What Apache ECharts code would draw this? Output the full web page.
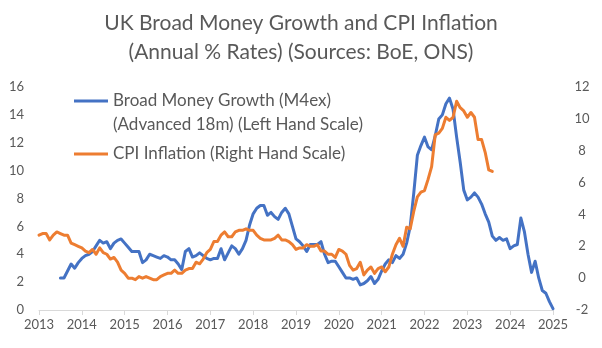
<!DOCTYPE html>
<html>
<head>
<meta charset="utf-8">
<script src="https://cdn.jsdelivr.net/npm/echarts@6/dist/echarts.min.js"></script>
<style>
  html, body { margin: 0; padding: 0; background: #ffffff; }
  #chart { width: 602px; height: 348px; }
</style>
</head>
<body>
<div id="chart"></div>
<script>
// Monthly axis: Jan 2013 .. Jan 2025
const firstYear = 2013;
const lastYear = 2025;

// UK CPI inflation, annual % rate, monthly from Jan 2013 (right hand scale)
const cpiStartIndex = 0;
const cpiInflation = [
  2.7, 2.8, 2.8, 2.4, 2.7, 2.9, 2.8, 2.7, 2.7, 2.2, 2.1, 2.0,
  1.9, 1.7, 1.6, 1.8, 1.5, 1.9, 1.6, 1.5, 1.2, 1.3, 1.0, 0.5,
  0.3, 0.0, 0.0, -0.1, 0.1, 0.0, 0.1, 0.0, -0.1, -0.1, 0.1, 0.2,
  0.3, 0.3, 0.5, 0.3, 0.3, 0.5, 0.6, 0.6, 1.0, 0.9, 1.2, 1.6,
  1.8, 2.3, 2.3, 2.7, 2.9, 2.6, 2.6, 2.9, 3.0, 3.0, 3.1, 3.0,
  3.0, 2.7, 2.5, 2.4, 2.4, 2.4, 2.5, 2.7, 2.4, 2.4, 2.3, 2.1,
  1.8, 1.9, 1.9, 2.1, 2.0, 2.0, 2.1, 1.7, 1.7, 1.5, 1.5, 1.3,
  1.8, 1.7, 1.5, 0.8, 0.5, 0.6, 1.0, 0.2, 0.5, 0.7, 0.3, 0.6,
  0.7, 0.4, 0.7, 1.5, 2.1, 2.5, 2.0, 3.2, 3.1, 4.2, 5.1, 5.4,
  5.5, 6.2, 7.0, 9.0, 9.1, 9.4, 10.1, 9.9, 10.1, 11.1, 10.7, 10.5,
  10.1, 10.4, 10.1, 8.7, 8.7, 7.9, 6.8, 6.7
];

// Broad money (M4ex) growth, annual % rate, advanced 18 months, monthly from Jul 2013 (left hand scale)
const broadMoneyStartIndex = 6;
const broadMoneyGrowth = [
                                2.3, 2.3, 2.8, 3.3, 3.0, 3.4,
  3.7, 3.9, 4.0, 4.2, 4.6, 5.0, 4.8, 4.9, 4.4, 4.8, 5.0, 5.1,
  4.8, 4.5, 4.2, 4.2, 4.2, 3.4, 3.6, 4.0, 3.9, 3.8, 3.7, 3.9,
  3.8, 3.6, 3.6, 3.3, 2.9, 4.2, 4.4, 3.8, 3.9, 4.1, 3.9, 3.7,
  3.6, 3.7, 3.7, 4.4, 3.6, 4.1, 4.6, 4.4, 4.0, 4.4, 5.0, 6.1,
  6.9, 7.3, 7.5, 7.5, 6.8, 7.0, 6.7, 6.5, 7.0, 7.3, 6.9, 6.0,
  5.1, 4.9, 4.6, 4.2, 4.7, 4.7, 4.7, 4.9, 4.0, 3.4, 3.5, 3.5,
  3.1, 2.7, 2.3, 2.3, 2.2, 2.3, 1.8, 1.9, 2.1, 2.4, 1.9, 2.2,
  2.8, 3.3, 3.6, 3.4, 3.9, 3.7, 4.0, 4.8, 6.0, 8.4, 11.1, 11.8,
  12.4, 11.7, 11.5, 12.5, 13.7, 14.0, 14.8, 15.2, 14.4, 12.4, 10.6, 8.6,
  7.9, 8.1, 8.4, 8.1, 7.6, 6.9, 6.3, 5.3, 5.0, 5.2, 5.0, 5.1,
  4.4, 4.6, 4.7, 6.6, 5.6, 4.0, 2.7, 3.5, 2.3, 1.4, 1.2, 0.6,
  0.1
];

const leftScale = { min: 0, max: 16, step: 2 };
const rightScale = { min: -2, max: 12, step: 2 };

const seriesNames = {
  money: 'Broad Money Growth (M4ex)\n(Advanced 18m) (Left Hand Scale)',
  cpi: 'CPI Inflation (Right Hand Scale)'
};

// Build month categories and align each series on them
const months = [];
for (let y = firstYear; y <= lastYear; y++) {
  for (let m = 1; m <= 12; m++) {
    if (y === lastYear && m > 1) break;
    months.push(y + '-' + String(m).padStart(2, '0'));
  }
}
function placeOnAxis(values, start) {
  const out = new Array(months.length).fill(null);
  values.forEach((v, i) => { if (start + i < out.length) out[start + i] = v; });
  return out;
}

const textColor = '#595959';
const fontFamily = 'Lato, "Open Sans", sans-serif';
const isYearStart = (i) => i % 12 === 0;
const legendLine = 23.3;

const chart = echarts.init(document.getElementById('chart'), null, { renderer: 'canvas' });
chart.setOption({
  animation: false,
  backgroundColor: '#ffffff',
  textStyle: { fontFamily: fontFamily },
  title: {
    text: 'UK Broad Money Growth and CPI Inflation\n(Annual % Rates) (Sources: BoE, ONS)',
    left: 'center',
    top: 8,
    padding: 0,
    textStyle: {
      color: textColor,
      fontFamily: fontFamily,
      fontSize: 21,
      fontWeight: 'normal',
      lineHeight: 29.5
    }
  },
  legend: [
    {
      // a blank leading line keeps the icon level with the first line of the name
      data: [seriesNames.money],
      formatter: (name) => '\n' + name,
      left: 74,
      top: 101 - 1.5 * legendLine,
      padding: 0,
      icon: 'rect',
      itemWidth: 34,
      itemHeight: 3,
      itemGap: 7,
      textStyle: {
        color: textColor,
        fontFamily: fontFamily,
        fontSize: 17,
        lineHeight: legendLine
      }
    },
    {
      data: [seriesNames.cpi],
      left: 74,
      top: 154 - 0.5 * legendLine,
      padding: 0,
      icon: 'rect',
      itemWidth: 34,
      itemHeight: 3,
      textStyle: {
        color: textColor,
        fontFamily: fontFamily,
        fontSize: 17,
        lineHeight: legendLine
      }
    }
  ],
  grid: { left: 39, right: 49, top: 87, bottom: 38, containLabel: false },
  xAxis: {
    type: 'category',
    data: months,
    boundaryGap: false,
    axisLine: { lineStyle: { color: '#d9d9d9', width: 1 } },
    axisTick: { interval: isYearStart, length: 5, lineStyle: { color: '#d9d9d9' } },
    axisLabel: {
      interval: isYearStart,
      formatter: (v) => v.slice(0, 4),
      color: textColor,
      fontFamily: fontFamily,
      fontSize: 13,
      margin: 8
    },
    splitLine: { show: false }
  },
  yAxis: [
    {
      type: 'value',
      position: 'left',
      min: leftScale.min,
      max: leftScale.max,
      interval: leftScale.step,
      alignTicks: false,
      axisLine: { show: false },
      axisTick: { show: false },
      splitLine: { show: false },
      axisLabel: { color: textColor, fontFamily: fontFamily, fontSize: 13, margin: 15 }
    },
    {
      type: 'value',
      position: 'right',
      min: rightScale.min,
      max: rightScale.max,
      interval: rightScale.step,
      alignTicks: false,
      axisLine: { show: false },
      axisTick: { show: false },
      splitLine: { show: false },
      axisLabel: { color: textColor, fontFamily: fontFamily, fontSize: 13, margin: 29, align: 'center' }
    }
  ],
  series: [
    {
      name: seriesNames.money,
      type: 'line',
      yAxisIndex: 0,
      data: placeOnAxis(broadMoneyGrowth, broadMoneyStartIndex),
      showSymbol: false,
      symbol: 'none',
      connectNulls: false,
      lineStyle: { color: '#4472c4', width: 3, join: 'round', cap: 'round' },
      itemStyle: { color: '#4472c4' },
      z: 2
    },
    {
      name: seriesNames.cpi,
      type: 'line',
      yAxisIndex: 1,
      data: placeOnAxis(cpiInflation, cpiStartIndex),
      showSymbol: false,
      symbol: 'none',
      connectNulls: false,
      lineStyle: { color: '#ed7d31', width: 3, join: 'round', cap: 'round' },
      itemStyle: { color: '#ed7d31' },
      z: 3
    }
  ]
});
</script>
</body>
</html>
